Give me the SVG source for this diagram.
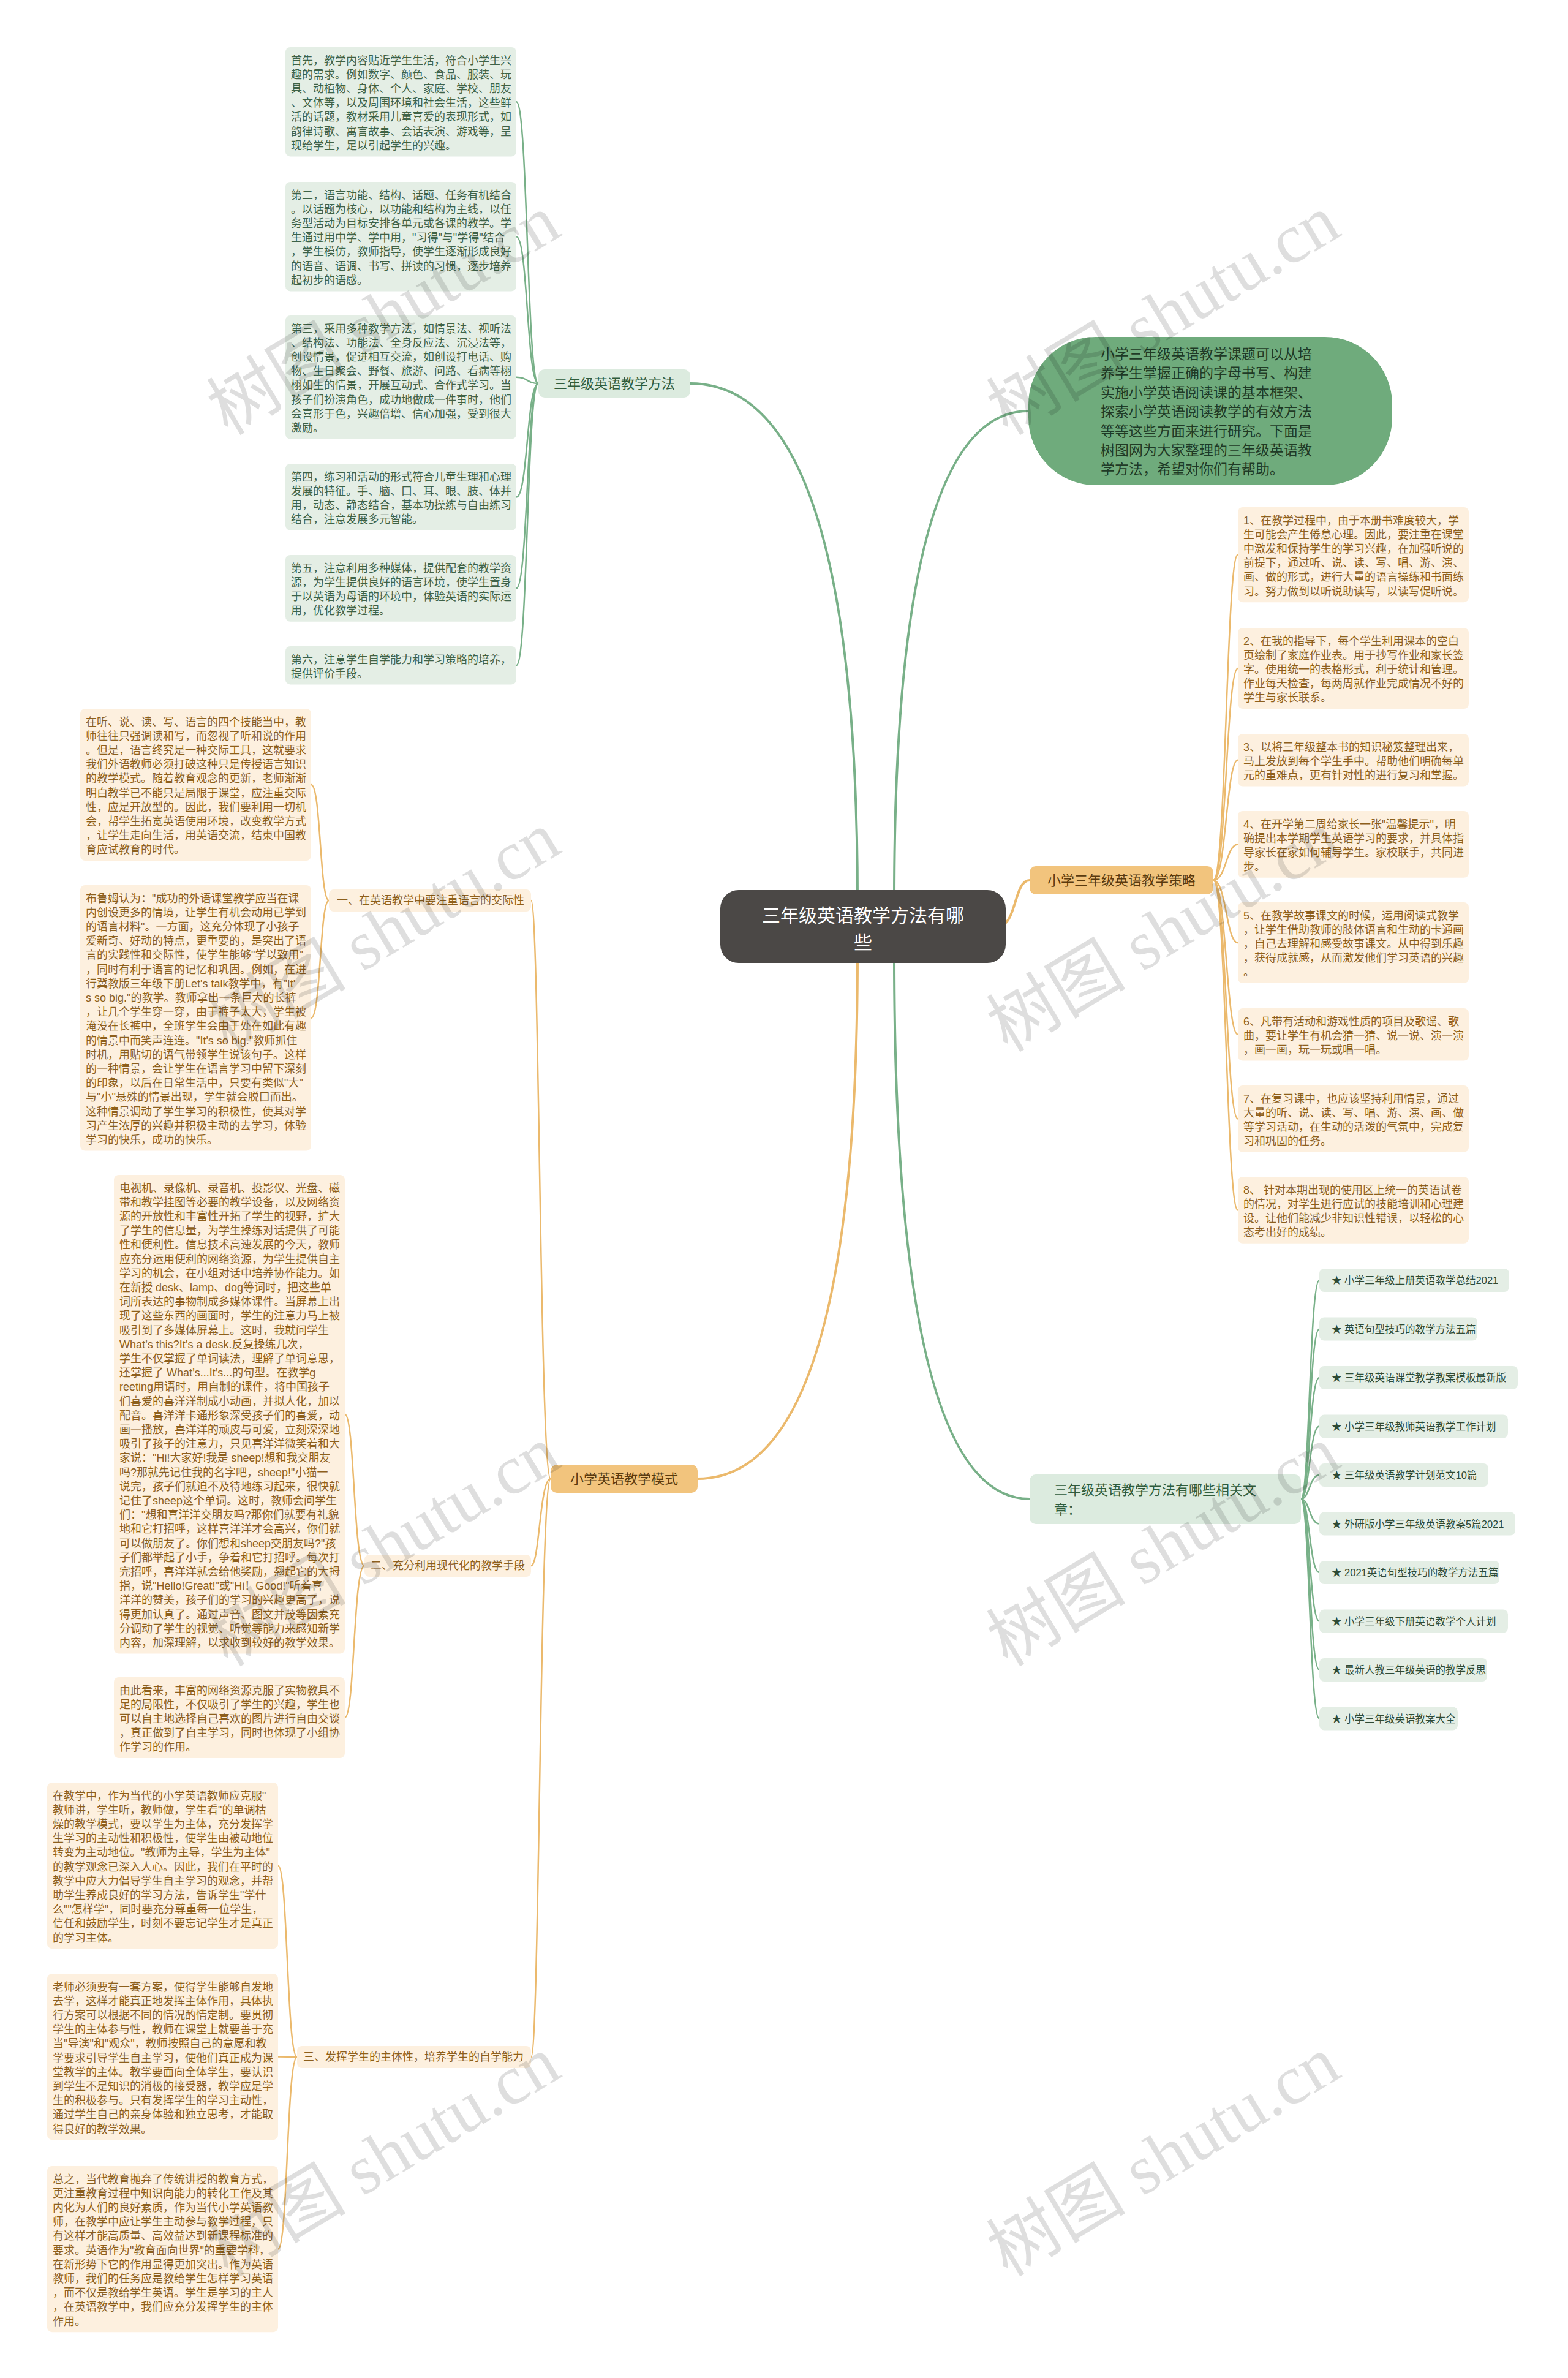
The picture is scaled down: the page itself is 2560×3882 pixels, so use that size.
<svg xmlns="http://www.w3.org/2000/svg" width="2560" height="3882" viewBox="0 0 2560 3882">
<style>
text{font-family:"Liberation Sans","Noto Sans CJK SC",sans-serif}
.gb{fill:#e4eee5}
.gt{fill:#3e6247;font-size:18px}
.ob{fill:#fdf0df}
.ot{fill:#8d5f1c;font-size:18px}
.gl{stroke:#78b088;fill:none;stroke-width:2.5}
.ol{stroke:#ebb96c;fill:none;stroke-width:2.5}
.glm{stroke:#78b088;fill:none;stroke-width:4}
.olm{stroke:#ebb96c;fill:none;stroke-width:4}
.it{fill:#2e4a35;font-size:16.5px}
.wm{font-family:"Liberation Serif","Noto Sans CJK SC",serif;font-size:114px;fill:#000;fill-opacity:0.13}
</style>
<rect width="2560" height="3882" fill="#ffffff"/>

<g id="connectors">
<path class="glm" d="M1127 626 Q1400 626 1400 1470"/>
<path class="glm" d="M1460 1470 Q1460 671 1679 671"/>
<path class="glm" d="M1460 1560 Q1460 2447 1681 2447"/>
<path class="olm" d="M1630 1512 C1660 1512 1655 1437 1681 1437"/>
<path class="olm" d="M1139 2414 Q1400 2414 1400 1560"/>
<path class="gl" d="M879 626 C860 626 862 166.2 843 166.2"/>
<path class="gl" d="M879 626 C860 626 862 386.2 843 386.2"/>
<path class="gl" d="M879 626 C860 626 862 615.8 843 615.8"/>
<path class="gl" d="M879 626 C860 626 862 811.4 843 811.4"/>
<path class="gl" d="M879 626 C860 626 862 960.4 843 960.4"/>
<path class="gl" d="M879 626 C860 626 862 1086.2 843 1086.2"/>
<path class="ol" d="M1981 1437 C2002 1437 2002 905.6 2021 905.6"/>
<path class="ol" d="M1981 1437 C2002 1437 2002 1091 2021 1091"/>
<path class="ol" d="M1981 1437 C2002 1437 2002 1240.8 2021 1240.8"/>
<path class="ol" d="M1981 1437 C2002 1437 2002 1378.4 2021 1378.4"/>
<path class="ol" d="M1981 1437 C2002 1437 2002 1539 2021 1539"/>
<path class="ol" d="M1981 1437 C2002 1437 2002 1688.8 2021 1688.8"/>
<path class="ol" d="M1981 1437 C2002 1437 2002 1826.4 2021 1826.4"/>
<path class="ol" d="M1981 1437 C2002 1437 2002 1975.4 2021 1975.4"/>
<path class="ol" d="M899 2414 C881 2414 881 1470 867 1470"/>
<path class="ol" d="M899 2414 C881 2414 881 2556 867 2556"/>
<path class="ol" d="M899 2414 C881 2414 881 3358 867 3358"/>
<path class="ol" d="M537 1470 C522 1470 524 1281 508 1281"/>
<path class="ol" d="M537 1470 C522 1470 524 1661.8 508 1661.8"/>
<path class="ol" d="M595 2556 C577 2556 579 2308.8 563 2308.8"/>
<path class="ol" d="M595 2556 C577 2556 579 2804 563 2804"/>
<path class="ol" d="M485 3358 C468 3358 470 3045.6 454 3045.6"/>
<path class="ol" d="M485 3358 C468 3358 470 3357.6 454 3357.6"/>
<path class="ol" d="M485 3358 C468 3358 470 3671.6 454 3671.6"/>
<path class="gl" d="M2124 2447 C2138 2447 2138 2090 2154 2090"/>
<path class="gl" d="M2124 2447 C2138 2447 2138 2169.5 2154 2169.5"/>
<path class="gl" d="M2124 2447 C2138 2447 2138 2249 2154 2249"/>
<path class="gl" d="M2124 2447 C2138 2447 2138 2328.5 2154 2328.5"/>
<path class="gl" d="M2124 2447 C2138 2447 2138 2408 2154 2408"/>
<path class="gl" d="M2124 2447 C2138 2447 2138 2487.5 2154 2487.5"/>
<path class="gl" d="M2124 2447 C2138 2447 2138 2567 2154 2567"/>
<path class="gl" d="M2124 2447 C2138 2447 2138 2646.5 2154 2646.5"/>
<path class="gl" d="M2124 2447 C2138 2447 2138 2726 2154 2726"/>
<path class="gl" d="M2124 2447 C2138 2447 2138 2805.5 2154 2805.5"/>
</g>

<g id="root">
<rect x="1176" y="1453" width="466" height="119" rx="30" fill="#4b4846"/>
<text x="1409" y="1505" font-size="30" fill="#ffffff" text-anchor="middle"><tspan x="1409">三年级英语教学方法有哪</tspan><tspan x="1409" dy="44">些</tspan></text>
</g>

<g id="intro">
<rect x="1679" y="550" width="594" height="242" rx="110" fill="#6fab7c"/>
<text x="1797" y="586" font-size="23" fill="#1f3a26"><tspan x="1797">小学三年级英语教学课题可以从培</tspan><tspan x="1797" dy="31.4">养学生掌握正确的字母书写、构建</tspan><tspan x="1797" dy="31.4">实施小学英语阅读课的基本框架、</tspan><tspan x="1797" dy="31.4">探索小学英语阅读教学的有效方法</tspan><tspan x="1797" dy="31.4">等等这些方面来进行研究。下面是</tspan><tspan x="1797" dy="31.4">树图网为大家整理的三年级英语教</tspan><tspan x="1797" dy="31.4">学方法，希望对你们有帮助。</tspan></text>
</g>

<g id="n-method">
<rect x="879" y="603" width="248" height="46" rx="10" fill="#dcebdf"/>
<text x="1003" y="634" font-size="22" fill="#2f5c3c" text-anchor="middle">三年级英语教学方法</text>
</g>

<g id="g1"><rect class="gb" x="466" y="77" width="377" height="178.4" rx="8"/>
<text class="gt" x="475" y="104.5"><tspan x="475">首先，教学内容贴近学生生活，符合小学生兴</tspan><tspan x="475" dy="23.2">趣的需求。例如数字、颜色、食品、服装、玩</tspan><tspan x="475" dy="23.2">具、动植物、身体、个人、家庭、学校、朋友</tspan><tspan x="475" dy="23.2">、文体等，以及周围环境和社会生活，这些鲜</tspan><tspan x="475" dy="23.2">活的话题，教材采用儿童喜爱的表现形式，如</tspan><tspan x="475" dy="23.2">韵律诗歌、寓言故事、会话表演、游戏等，呈</tspan><tspan x="475" dy="23.2">现给学生，足以引起学生的兴趣。</tspan></text></g>
<g id="g2"><rect class="gb" x="466" y="297" width="377" height="178.4" rx="8"/>
<text class="gt" x="475" y="324.5"><tspan x="475">第二，语言功能、结构、话题、任务有机结合</tspan><tspan x="475" dy="23.2">。以话题为核心，以功能和结构为主线，以任</tspan><tspan x="475" dy="23.2">务型活动为目标安排各单元或各课的教学。学</tspan><tspan x="475" dy="23.2">生通过用中学、学中用，"习得"与"学得"结合</tspan><tspan x="475" dy="23.2">，学生模仿，教师指导，使学生逐渐形成良好</tspan><tspan x="475" dy="23.2">的语音、语调、书写、拼读的习惯，逐步培养</tspan><tspan x="475" dy="23.2">起初步的语感。</tspan></text></g>
<g id="g3"><rect class="gb" x="466" y="515" width="377" height="201.6" rx="8"/>
<text class="gt" x="475" y="542.5"><tspan x="475">第三，采用多种教学方法，如情景法、视听法</tspan><tspan x="475" dy="23.2">、结构法、功能法、全身反应法、沉浸法等，</tspan><tspan x="475" dy="23.2">创设情景，促进相互交流，如创设打电话、购</tspan><tspan x="475" dy="23.2">物、生日聚会、野餐、旅游、问路、看病等栩</tspan><tspan x="475" dy="23.2">栩如生的情景，开展互动式、合作式学习。当</tspan><tspan x="475" dy="23.2">孩子们扮演角色，成功地做成一件事时，他们</tspan><tspan x="475" dy="23.2">会喜形于色，兴趣倍增、信心加强，受到很大</tspan><tspan x="475" dy="23.2">激励。</tspan></text></g>
<g id="g4"><rect class="gb" x="466" y="757" width="377" height="108.8" rx="8"/>
<text class="gt" x="475" y="784.5"><tspan x="475">第四，练习和活动的形式符合儿童生理和心理</tspan><tspan x="475" dy="23.2">发展的特征。手、脑、口、耳、眼、肢、体并</tspan><tspan x="475" dy="23.2">用，动态、静态结合，基本功操练与自由练习</tspan><tspan x="475" dy="23.2">结合，注意发展多元智能。</tspan></text></g>
<g id="g5"><rect class="gb" x="466" y="906" width="377" height="108.8" rx="8"/>
<text class="gt" x="475" y="933.5"><tspan x="475">第五，注意利用多种媒体，提供配套的教学资</tspan><tspan x="475" dy="23.2">源，为学生提供良好的语言环境，使学生置身</tspan><tspan x="475" dy="23.2">于以英语为母语的环境中，体验英语的实际运</tspan><tspan x="475" dy="23.2">用，优化教学过程。</tspan></text></g>
<g id="g6"><rect class="gb" x="466" y="1055" width="377" height="62.4" rx="8"/>
<text class="gt" x="475" y="1082.5"><tspan x="475">第六，注意学生自学能力和学习策略的培养，</tspan><tspan x="475" dy="23.2">提供评价手段。</tspan></text></g>

<g id="n-strategy">
<rect x="1681" y="1414" width="300" height="46" rx="10" fill="#f2c47d"/>
<text x="1831" y="1445" font-size="22" fill="#5a3a0e" text-anchor="middle">小学三年级英语教学策略</text>
</g>

<g id="r1"><rect class="ob" x="2021" y="828" width="377" height="155.2" rx="8"/>
<text class="ot" x="2030" y="855.5"><tspan x="2030">1、在教学过程中，由于本册书难度较大，学</tspan><tspan x="2030" dy="23.2">生可能会产生倦怠心理。因此，要注重在课堂</tspan><tspan x="2030" dy="23.2">中激发和保持学生的学习兴趣，在加强听说的</tspan><tspan x="2030" dy="23.2">前提下，通过听、说、读、写、唱、游、演、</tspan><tspan x="2030" dy="23.2">画、做的形式，进行大量的语言操练和书面练</tspan><tspan x="2030" dy="23.2">习。努力做到以听说助读写，以读写促听说。</tspan></text></g>
<g id="r2"><rect class="ob" x="2021" y="1025" width="377" height="132" rx="8"/>
<text class="ot" x="2030" y="1052.5"><tspan x="2030">2、在我的指导下，每个学生利用课本的空白</tspan><tspan x="2030" dy="23.2">页绘制了家庭作业表。用于抄写作业和家长签</tspan><tspan x="2030" dy="23.2">字。使用统一的表格形式，利于统计和管理。</tspan><tspan x="2030" dy="23.2">作业每天检查，每两周就作业完成情况不好的</tspan><tspan x="2030" dy="23.2">学生与家长联系。</tspan></text></g>
<g id="r3"><rect class="ob" x="2021" y="1198" width="377" height="85.6" rx="8"/>
<text class="ot" x="2030" y="1225.5"><tspan x="2030">3、以将三年级整本书的知识秘笈整理出来，</tspan><tspan x="2030" dy="23.2">马上发放到每个学生手中。帮助他们明确每单</tspan><tspan x="2030" dy="23.2">元的重难点，更有针对性的进行复习和掌握。</tspan></text></g>
<g id="r4"><rect class="ob" x="2021" y="1324" width="377" height="108.8" rx="8"/>
<text class="ot" x="2030" y="1351.5"><tspan x="2030">4、在开学第二周给家长一张"温馨提示"，明</tspan><tspan x="2030" dy="23.2">确提出本学期学生英语学习的要求，并具体指</tspan><tspan x="2030" dy="23.2">导家长在家如何辅导学生。家校联手，共同进</tspan><tspan x="2030" dy="23.2">步。</tspan></text></g>
<g id="r5"><rect class="ob" x="2021" y="1473" width="377" height="132" rx="8"/>
<text class="ot" x="2030" y="1500.5"><tspan x="2030">5、在教学故事课文的时候，运用阅读式教学</tspan><tspan x="2030" dy="23.2">，让学生借助教师的肢体语言和生动的卡通画</tspan><tspan x="2030" dy="23.2">，自己去理解和感受故事课文。从中得到乐趣</tspan><tspan x="2030" dy="23.2">，获得成就感，从而激发他们学习英语的兴趣</tspan><tspan x="2030" dy="23.2">。</tspan></text></g>
<g id="r6"><rect class="ob" x="2021" y="1646" width="377" height="85.6" rx="8"/>
<text class="ot" x="2030" y="1673.5"><tspan x="2030">6、凡带有活动和游戏性质的项目及歌谣、歌</tspan><tspan x="2030" dy="23.2">曲，要让学生有机会猜一猜、说一说、演一演</tspan><tspan x="2030" dy="23.2">，画一画，玩一玩或唱一唱。</tspan></text></g>
<g id="r7"><rect class="ob" x="2021" y="1772" width="377" height="108.8" rx="8"/>
<text class="ot" x="2030" y="1799.5"><tspan x="2030">7、在复习课中，也应该坚持利用情景，通过</tspan><tspan x="2030" dy="23.2">大量的听、说、读、写、唱、游、演、画、做</tspan><tspan x="2030" dy="23.2">等学习活动，在生动的活泼的气氛中，完成复</tspan><tspan x="2030" dy="23.2">习和巩固的任务。</tspan></text></g>
<g id="r8"><rect class="ob" x="2021" y="1921" width="377" height="108.8" rx="8"/>
<text class="ot" x="2030" y="1948.5"><tspan x="2030">8、 针对本期出现的使用区上统一的英语试卷</tspan><tspan x="2030" dy="23.2">的情况，对学生进行应试的技能培训和心理建</tspan><tspan x="2030" dy="23.2">设。让他们能减少非知识性错误，以轻松的心</tspan><tspan x="2030" dy="23.2">态考出好的成绩。</tspan></text></g>

<g id="n-related">
<rect x="1681" y="2407" width="443" height="81" rx="10" fill="#dcebdf"/>
<text x="1721" y="2440" font-size="22" fill="#2f5c3c"><tspan x="1721">三年级英语教学方法有哪些相关文</tspan><tspan x="1721" dy="32">章：</tspan></text>
</g>

<g id="i1"><rect class="gb" x="2154" y="2071" width="310" height="38" rx="8"/><text class="it" x="2174" y="2096">★ 小学三年级上册英语教学总结2021</text></g>
<g id="i2"><rect class="gb" x="2154" y="2150.5" width="258" height="38" rx="8"/><text class="it" x="2174" y="2175.5">★ 英语句型技巧的教学方法五篇</text></g>
<g id="i3"><rect class="gb" x="2154" y="2230" width="324" height="38" rx="8"/><text class="it" x="2174" y="2255">★ 三年级英语课堂教学教案模板最新版</text></g>
<g id="i4"><rect class="gb" x="2154" y="2309.5" width="308" height="38" rx="8"/><text class="it" x="2174" y="2334.5">★ 小学三年级教师英语教学工作计划</text></g>
<g id="i5"><rect class="gb" x="2154" y="2389" width="276" height="38" rx="8"/><text class="it" x="2174" y="2414">★ 三年级英语教学计划范文10篇</text></g>
<g id="i6"><rect class="gb" x="2154" y="2468.5" width="320" height="38" rx="8"/><text class="it" x="2174" y="2493.5">★ 外研版小学三年级英语教案5篇2021</text></g>
<g id="i7"><rect class="gb" x="2154" y="2548" width="294" height="38" rx="8"/><text class="it" x="2174" y="2573">★ 2021英语句型技巧的教学方法五篇</text></g>
<g id="i8"><rect class="gb" x="2154" y="2627.5" width="308" height="38" rx="8"/><text class="it" x="2174" y="2652.5">★ 小学三年级下册英语教学个人计划</text></g>
<g id="i9"><rect class="gb" x="2154" y="2707" width="274" height="38" rx="8"/><text class="it" x="2174" y="2732">★ 最新人教三年级英语的教学反思</text></g>
<g id="i10"><rect class="gb" x="2154" y="2786.5" width="226" height="38" rx="8"/><text class="it" x="2174" y="2811.5">★ 小学三年级英语教案大全</text></g>

<g id="n-mode">
<rect x="899" y="2391" width="240" height="46" rx="10" fill="#f2c47d"/>
<text x="1019" y="2422" font-size="22" fill="#5a3a0e" text-anchor="middle">小学英语教学模式</text>
</g>

<g id="n-one">
<rect class="ob" x="537" y="1452" width="330" height="36" rx="8"/>
<text class="ot" x="550" y="1476" font-size="17.5">一、在英语教学中要注重语言的交际性</text>
</g>
<g id="n-two">
<rect class="ob" x="595" y="2538" width="272" height="36" rx="8"/>
<text class="ot" x="605" y="2562" font-size="17.5">二、充分利用现代化的教学手段</text>
</g>
<g id="n-three">
<rect class="ob" x="485" y="3340" width="382" height="36" rx="8"/>
<text class="ot" x="495" y="3364" font-size="17.5">三、发挥学生的主体性，培养学生的自学能力</text>
</g>

<g id="la"><rect class="ob" x="131" y="1157" width="377" height="248" rx="8"/>
<text class="ot" x="140" y="1184.5"><tspan x="140">在听、说、读、写、语言的四个技能当中，教</tspan><tspan x="140" dy="23.2">师往往只强调读和写，而忽视了听和说的作用</tspan><tspan x="140" dy="23.2">。但是，语言终究是一种交际工具，这就要求</tspan><tspan x="140" dy="23.2">我们外语教师必须打破这种只是传授语言知识</tspan><tspan x="140" dy="23.2">的教学模式。随着教育观念的更新，老师渐渐</tspan><tspan x="140" dy="23.2">明白教学已不能只是局限于课堂，应注重交际</tspan><tspan x="140" dy="23.2">性，应是开放型的。因此，我们要利用一切机</tspan><tspan x="140" dy="23.2">会，帮学生拓宽英语使用环境，改变教学方式</tspan><tspan x="140" dy="23.2">，让学生走向生活，用英语交流，结束中国教</tspan><tspan x="140" dy="23.2">育应试教育的时代。</tspan></text></g>
<g id="lb"><rect class="ob" x="131" y="1445" width="377" height="433.6" rx="8"/>
<text class="ot" x="140" y="1472.5"><tspan x="140">布鲁姆认为："成功的外语课堂教学应当在课</tspan><tspan x="140" dy="23.2">内创设更多的情境，让学生有机会动用已学到</tspan><tspan x="140" dy="23.2">的语言材料"。一方面，这充分体现了小孩子</tspan><tspan x="140" dy="23.2">爱新奇、好动的特点，更重要的，是突出了语</tspan><tspan x="140" dy="23.2">言的实践性和交际性，使学生能够"学以致用"</tspan><tspan x="140" dy="23.2">，同时有利于语言的记忆和巩固。例如，在进</tspan><tspan x="140" dy="23.2">行冀教版三年级下册Let's talk教学中，有"It'</tspan><tspan x="140" dy="23.2">s so big."的教学。教师拿出一条巨大的长裤</tspan><tspan x="140" dy="23.2">，让几个学生穿一穿，由于裤子太大，学生被</tspan><tspan x="140" dy="23.2">淹没在长裤中，全班学生会由于处在如此有趣</tspan><tspan x="140" dy="23.2">的情景中而笑声连连。"It's so big."教师抓住</tspan><tspan x="140" dy="23.2">时机，用贴切的语气带领学生说该句子。这样</tspan><tspan x="140" dy="23.2">的一种情景，会让学生在语言学习中留下深刻</tspan><tspan x="140" dy="23.2">的印象，以后在日常生活中，只要有类似"大"</tspan><tspan x="140" dy="23.2">与"小"悬殊的情景出现，学生就会脱口而出。</tspan><tspan x="140" dy="23.2">这种情景调动了学生学习的积极性，使其对学</tspan><tspan x="140" dy="23.2">习产生浓厚的兴趣并积极主动的去学习，体验</tspan><tspan x="140" dy="23.2">学习的快乐，成功的快乐。</tspan></text></g>

<g id="lc"><rect class="ob" x="186" y="1918" width="377" height="781.6" rx="8"/>
<text class="ot" x="195" y="1945.5"><tspan x="195">电视机、录像机、录音机、投影仪、光盘、磁</tspan><tspan x="195" dy="23.2">带和教学挂图等必要的教学设备，以及网络资</tspan><tspan x="195" dy="23.2">源的开放性和丰富性开拓了学生的视野，扩大</tspan><tspan x="195" dy="23.2">了学生的信息量，为学生操练对话提供了可能</tspan><tspan x="195" dy="23.2">性和便利性。信息技术高速发展的今天，教师</tspan><tspan x="195" dy="23.2">应充分运用便利的网络资源，为学生提供自主</tspan><tspan x="195" dy="23.2">学习的机会，在小组对话中培养协作能力。如</tspan><tspan x="195" dy="23.2">在新授 desk、lamp、dog等词时，把这些单</tspan><tspan x="195" dy="23.2">词所表达的事物制成多媒体课件。当屏幕上出</tspan><tspan x="195" dy="23.2">现了这些东西的画面时，学生的注意力马上被</tspan><tspan x="195" dy="23.2">吸引到了多媒体屏幕上。这时，我就问学生</tspan><tspan x="195" dy="23.2">What’s this?It’s a desk.反复操练几次，</tspan><tspan x="195" dy="23.2">学生不仅掌握了单词读法，理解了单词意思，</tspan><tspan x="195" dy="23.2">还掌握了 What’s...It’s...的句型。在教学g</tspan><tspan x="195" dy="23.2">reeting用语时，用自制的课件，将中国孩子</tspan><tspan x="195" dy="23.2">们喜爱的喜洋洋制成小动画，并拟人化，加以</tspan><tspan x="195" dy="23.2">配音。喜洋洋卡通形象深受孩子们的喜爱，动</tspan><tspan x="195" dy="23.2">画一播放，喜洋洋的顽皮与可爱，立刻深深地</tspan><tspan x="195" dy="23.2">吸引了孩子的注意力，只见喜洋洋微笑着和大</tspan><tspan x="195" dy="23.2">家说："Hi!大家好!我是 sheep!想和我交朋友</tspan><tspan x="195" dy="23.2">吗?那就先记住我的名字吧，sheep!"小猫一</tspan><tspan x="195" dy="23.2">说完，孩子们就迫不及待地练习起来，很快就</tspan><tspan x="195" dy="23.2">记住了sheep这个单词。这时，教师会问学生</tspan><tspan x="195" dy="23.2">们："想和喜洋洋交朋友吗?那你们就要有礼貌</tspan><tspan x="195" dy="23.2">地和它打招呼，这样喜洋洋才会高兴，你们就</tspan><tspan x="195" dy="23.2">可以做朋友了。你们想和sheep交朋友吗?"孩</tspan><tspan x="195" dy="23.2">子们都举起了小手，争着和它打招呼。每次打</tspan><tspan x="195" dy="23.2">完招呼，喜洋洋就会给他奖励，翘起它的大拇</tspan><tspan x="195" dy="23.2">指，说"Hello!Great!"或"Hi！Good!"听着喜</tspan><tspan x="195" dy="23.2">洋洋的赞美，孩子们的学习的兴趣更高了，说</tspan><tspan x="195" dy="23.2">得更加认真了。通过声音、图文并茂等因素充</tspan><tspan x="195" dy="23.2">分调动了学生的视觉、听觉等能力来感知新学</tspan><tspan x="195" dy="23.2">内容，加深理解，以求收到较好的教学效果。</tspan></text></g>
<g id="ld"><rect class="ob" x="186" y="2738" width="377" height="132" rx="8"/>
<text class="ot" x="195" y="2765.5"><tspan x="195">由此看来，丰富的网络资源克服了实物教具不</tspan><tspan x="195" dy="23.2">足的局限性，不仅吸引了学生的兴趣，学生也</tspan><tspan x="195" dy="23.2">可以自主地选择自己喜欢的图片进行自由交谈</tspan><tspan x="195" dy="23.2">，真正做到了自主学习，同时也体现了小组协</tspan><tspan x="195" dy="23.2">作学习的作用。</tspan></text></g>

<g id="le"><rect class="ob" x="77" y="2910" width="377" height="271.2" rx="8"/>
<text class="ot" x="86" y="2937.5"><tspan x="86">在教学中，作为当代的小学英语教师应克服"</tspan><tspan x="86" dy="23.2">教师讲，学生听，教师做，学生看"的单调枯</tspan><tspan x="86" dy="23.2">燥的教学模式，要以学生为主体，充分发挥学</tspan><tspan x="86" dy="23.2">生学习的主动性和积极性，使学生由被动地位</tspan><tspan x="86" dy="23.2">转变为主动地位。"教师为主导，学生为主体"</tspan><tspan x="86" dy="23.2">的教学观念已深入人心。因此，我们在平时的</tspan><tspan x="86" dy="23.2">教学中应大力倡导学生自主学习的观念，并帮</tspan><tspan x="86" dy="23.2">助学生养成良好的学习方法，告诉学生"学什</tspan><tspan x="86" dy="23.2">么""怎样学"，同时要充分尊重每一位学生，</tspan><tspan x="86" dy="23.2">信任和鼓励学生，时刻不要忘记学生才是真正</tspan><tspan x="86" dy="23.2">的学习主体。</tspan></text></g>
<g id="lf"><rect class="ob" x="77" y="3222" width="377" height="271.2" rx="8"/>
<text class="ot" x="86" y="3249.5"><tspan x="86">老师必须要有一套方案，使得学生能够自发地</tspan><tspan x="86" dy="23.2">去学，这样才能真正地发挥主体作用，具体执</tspan><tspan x="86" dy="23.2">行方案可以根据不同的情况酌情定制。要贯彻</tspan><tspan x="86" dy="23.2">学生的主体参与性，教师在课堂上就要善于充</tspan><tspan x="86" dy="23.2">当"导演"和"观众"，教师按照自己的意愿和教</tspan><tspan x="86" dy="23.2">学要求引导学生自主学习，使他们真正成为课</tspan><tspan x="86" dy="23.2">堂教学的主体。教学要面向全体学生，要认识</tspan><tspan x="86" dy="23.2">到学生不是知识的消极的接受器，教学应是学</tspan><tspan x="86" dy="23.2">生的积极参与。只有发挥学生的学习主动性，</tspan><tspan x="86" dy="23.2">通过学生自己的亲身体验和独立思考，才能取</tspan><tspan x="86" dy="23.2">得良好的教学效果。</tspan></text></g>
<g id="lg"><rect class="ob" x="77" y="3536" width="377" height="271.2" rx="8"/>
<text class="ot" x="86" y="3563.5"><tspan x="86">总之，当代教育抛弃了传统讲授的教育方式，</tspan><tspan x="86" dy="23.2">更注重教育过程中知识向能力的转化工作及其</tspan><tspan x="86" dy="23.2">内化为人们的良好素质，作为当代小学英语教</tspan><tspan x="86" dy="23.2">师，在教学中应让学生主动参与教学过程，只</tspan><tspan x="86" dy="23.2">有这样才能高质量、高效益达到新课程标准的</tspan><tspan x="86" dy="23.2">要求。英语作为"教育面向世界"的重要学科，</tspan><tspan x="86" dy="23.2">在新形势下它的作用显得更加突出。作为英语</tspan><tspan x="86" dy="23.2">教师，我们的任务应是教给学生怎样学习英语</tspan><tspan x="86" dy="23.2">，而不仅是教给学生英语。学生是学习的主人</tspan><tspan x="86" dy="23.2">，在英语教学中，我们应充分发挥学生的主体</tspan><tspan x="86" dy="23.2">作用。</tspan></text></g>

<g id="watermarks">
<text class="wm" transform="translate(372 712) rotate(-31)">树图 shutu.cn</text>
<text class="wm" transform="translate(1645 712) rotate(-31)">树图 shutu.cn</text>
<text class="wm" transform="translate(372 1719) rotate(-31)">树图 shutu.cn</text>
<text class="wm" transform="translate(1645 1719) rotate(-31)">树图 shutu.cn</text>
<text class="wm" transform="translate(372 2722) rotate(-31)">树图 shutu.cn</text>
<text class="wm" transform="translate(1645 2722) rotate(-31)">树图 shutu.cn</text>
<text class="wm" transform="translate(372 3718) rotate(-31)">树图 shutu.cn</text>
<text class="wm" transform="translate(1645 3718) rotate(-31)">树图 shutu.cn</text>
</g>
</svg>
